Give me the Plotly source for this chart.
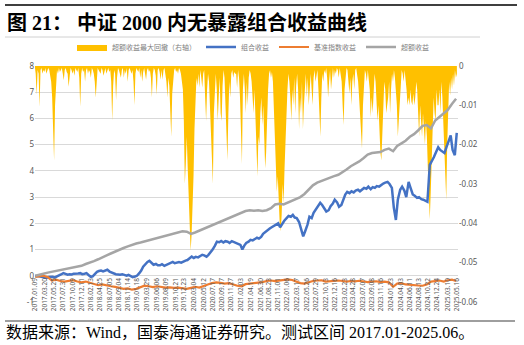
import pandas as pd
import plotly.graph_objects as go

# ---------------- data ----------------
month_dates = pd.date_range("2017-01-01", periods=101, freq="MS") + pd.Timedelta(days=9)
half_month_dates = pd.date_range("2017-01-01", "2025-05-15", freq="SMS")

excess = [0.00, 0.03, 0.08, 0.12, 0.15, 0.18, 0.22, 0.26, 0.29, 0.31, 0.35, 0.38,
          0.45, 0.50, 0.56, 0.63, 0.72, 0.78, 0.85, 0.93, 1.00, 1.06, 1.12, 1.18,
          1.23, 1.27, 1.31, 1.35, 1.38, 1.42, 1.46, 1.50, 1.55, 1.60, 1.66, 1.70,
          1.68, 1.60, 1.65, 1.72, 1.80, 1.86, 1.92, 1.98, 2.05, 2.12, 2.20, 2.28,
          2.35, 2.42, 2.47, 2.50, 2.48, 2.50, 2.47, 2.50, 2.58, 2.72, 2.75, 2.72,
          2.80, 2.88, 2.95, 3.00, 3.12, 3.28, 3.45, 3.55, 3.62, 3.68, 3.75, 3.80,
          3.85, 3.95, 4.05, 4.18, 4.26, 4.36, 4.48, 4.62, 4.68, 4.70, 4.72, 4.80,
          4.85, 4.75, 4.95, 5.05, 5.15, 5.30, 5.40, 5.55, 5.72, 5.75, 5.62, 5.92,
          6.05, 6.20, 6.32, 6.55, 6.75]

# portfolio return, sampled on the 1st and 15th of each month
portfolio = [
    # 2017
    0.00, 0.00, -0.02, -0.03, -0.05, -0.06, -0.08, -0.05, -0.03, -0.04, -0.06, -0.03,
    0.00, 0.05, 0.10, 0.06, 0.04, 0.06, 0.05, 0.08, 0.07, 0.09, 0.10, 0.06,
    # 2018
    0.08, 0.10, 0.02, -0.04, -0.02, 0.05, 0.15, 0.18, 0.20, 0.17, 0.22, 0.23,
    0.16, 0.12, 0.10, 0.06, 0.05, 0.04, 0.06, 0.02, 0.00, 0.03, -0.02, -0.05,
    # 2019
    -0.03, 0.00, 0.10, 0.20, 0.35, 0.45, 0.53, 0.57, 0.48, 0.42, 0.45, 0.40,
    0.40, 0.44, 0.38, 0.42, 0.46, 0.50, 0.53, 0.48, 0.50, 0.52, 0.50, 0.55,
    # 2020
    0.58, 0.60, 0.66, 0.73, 0.68, 0.72, 0.70, 0.76, 0.80, 0.78, 0.73, 0.80,
    0.90, 1.00, 1.15, 1.30, 1.28, 1.33, 1.27, 1.32, 1.30, 1.25, 1.32, 1.28,
    # 2021
    1.25, 1.22, 1.18, 1.00, 1.15, 1.25, 1.30, 1.37, 1.35, 1.40, 1.45, 1.42,
    1.48, 1.60, 1.68, 1.75, 1.80, 1.85, 1.90, 1.95, 2.00, 1.85, 2.00, 2.10,
    # 2022
    2.20, 2.28, 2.25, 2.32, 2.22, 2.20, 2.05, 1.80, 1.50, 1.70, 1.95, 2.25,
    2.20, 2.40, 2.55, 2.65, 2.78, 2.70, 2.55, 2.45, 2.50, 2.65, 2.75, 2.90,
    # 2023
    2.80, 2.63, 2.70, 2.95, 3.10, 3.20, 3.15, 3.22, 3.18, 3.25, 3.28, 3.22,
    3.30, 3.35, 3.32, 3.40, 3.30, 3.38, 3.35, 3.42, 3.40, 3.47, 3.52, 3.55,
    # 2024
    3.58, 3.50, 3.35, 2.60, 2.13, 2.90, 3.28, 3.40, 3.25, 3.00, 3.58, 3.35,
    3.10, 3.05, 2.97, 3.00, 2.92, 2.90, 2.85, 2.82, 4.23, 4.35, 4.53, 4.70,
    # 2025
    4.90, 4.80, 4.75, 4.68, 4.90, 5.10, 5.35, 4.80, 4.60, 5.45,
]

benchmark = [-0.04, -0.02, 0.00, -0.05, -0.18, -0.15, -0.20, -0.22, -0.18, -0.17, -0.22, -0.25,
             -0.22, -0.26, -0.30, -0.36, -0.33, -0.38, -0.40, -0.42, -0.46, -0.50, -0.48, -0.53,
             -0.50, -0.45, -0.38, -0.40, -0.43, -0.40, -0.42, -0.45, -0.44, -0.46, -0.45, -0.48,
             -0.50, -0.46, -0.42, -0.45, -0.38, -0.33, -0.28, -0.25, -0.27, -0.30, -0.28, -0.34,
             -0.38, -0.40, -0.32, -0.30, -0.28, -0.27, -0.24, -0.20, -0.18, -0.20, -0.17, -0.16,
             -0.14, -0.16, -0.22, -0.28, -0.30, -0.24, -0.20, -0.18, -0.17, -0.22, -0.20, -0.19,
             -0.18, -0.20, -0.22, -0.20, -0.21, -0.19, -0.22, -0.24, -0.22, -0.21, -0.24, -0.22,
             -0.25, -0.42, -0.30, -0.28, -0.33, -0.35, -0.36, -0.37, -0.38, -0.33, -0.22, -0.20,
             -0.18, -0.22, -0.17, -0.15, -0.20]

# weekly (Friday) max drawdown of excess return, one list per year
dd_2017 = [0, -0.002, -0.0074, -0.001, -0.002, -0.0104, -0.001, -0.0005, -0.002, -0.001,
           -0.0015, -0.0005, -0.002, -0.001, -0.0005, -0.001, -0.0025, -0.004, -0.008, -0.014,
           -0.024, -0.010, -0.003, -0.001, -0.002, -0.0005, -0.0015, -0.001, -0.0005, -0.002,
           -0.0036, -0.001, -0.0005, -0.0015, -0.002, -0.0053, -0.0015, -0.0005, -0.001, -0.002,
           -0.001, -0.0025, -0.0005, -0.001, -0.0015, -0.0005, -0.003, -0.0104, -0.002, -0.0005,
           -0.0015, -0.001]
dd_2018 = [-0.004, -0.001, -0.0005, -0.002, -0.001, -0.0015, -0.003, -0.0005, -0.001, -0.002,
           -0.004, -0.008, -0.002, -0.0005, -0.001, -0.0015, -0.002, -0.0005, -0.001, -0.0025,
           -0.001, -0.0005, -0.002, -0.001, -0.0005, -0.0015, -0.001, -0.004, -0.014, -0.005,
           -0.001, -0.002, -0.0087, -0.003, -0.0005, -0.001, -0.002, -0.003, -0.001, -0.0005,
           -0.003, -0.001, -0.002, -0.0005, -0.004, -0.001, -0.0005, -0.0015, -0.002, -0.001,
           -0.004, -0.010]
dd_2019 = [-0.002, -0.0005, -0.001, -0.0015, -0.0005, -0.003, -0.001, -0.004, -0.0015, -0.0005,
           -0.002, -0.0035, -0.001, -0.0005, -0.0015, -0.001, -0.003, -0.008, -0.002, -0.0005,
           -0.001, -0.0025, -0.0074, -0.001, -0.0005, -0.0015, -0.0035, -0.001, -0.0035, -0.001,
           -0.0005, -0.002, -0.004, -0.008, -0.003, -0.005, -0.012, -0.018, -0.007, -0.003,
           -0.001, -0.0005, -0.0015, -0.001, -0.002, -0.0005, -0.001, -0.002, -0.004, -0.006,
           -0.014, -0.030]
dd_2020 = [-0.025, -0.018, -0.026, -0.035, -0.040, -0.047, -0.043, -0.036, -0.028, -0.016,
           -0.008, -0.003, -0.005, -0.002, -0.0055, -0.001, -0.003, -0.0055, -0.002, -0.001,
           -0.008, -0.014, -0.006, -0.002, -0.004, -0.012, -0.020, -0.026, -0.030, -0.012,
           -0.004, -0.002, -0.006, -0.014, -0.008, -0.003, -0.012, -0.014, -0.005, -0.001,
           -0.003, -0.010, -0.018, -0.024, -0.012, -0.004, -0.008, -0.002, -0.001, -0.003,
           -0.0015, -0.002]
dd_2021 = [-0.002, -0.0055, -0.001, -0.003, -0.008, -0.016, -0.025, -0.006, -0.002, -0.006,
           -0.012, -0.004, -0.010, -0.003, -0.001, -0.002, -0.004, -0.008, -0.012, -0.006,
           -0.014, -0.022, -0.028, -0.018, -0.020, -0.012, -0.008, -0.015, -0.010, -0.018,
           -0.026, -0.022, -0.012, -0.006, -0.002, -0.001, -0.003, -0.0015, -0.004, -0.010,
           -0.018, -0.026, -0.032, -0.028, -0.036, -0.040, -0.042, -0.038, -0.030, -0.035,
           -0.026, -0.018, -0.010]
dd_2022 = [-0.006, -0.002, -0.004, -0.008, -0.014, -0.006, -0.010, -0.003, -0.012, -0.005,
           -0.002, -0.006, -0.016, -0.008, -0.012, -0.004, -0.016, -0.010, -0.004, -0.002,
           -0.008, -0.003, -0.010, -0.005, -0.002, -0.006, -0.010, -0.003, -0.001, -0.004,
           -0.002, -0.001, -0.006, -0.014, -0.018, -0.008, -0.002, -0.004, -0.001, -0.002,
           -0.0005, -0.003, -0.008, -0.004, -0.001, -0.006, -0.002, -0.0005, -0.003, -0.001,
           -0.002, -0.0005]
dd_2023 = [-0.001, -0.003, -0.0005, -0.002, -0.004, -0.010, -0.015, -0.006, -0.002, -0.0005,
           -0.001, -0.004, -0.007, -0.003, -0.010, -0.004, -0.002, -0.006, -0.001, -0.0005,
           -0.002, -0.004, -0.008, -0.012, -0.015, -0.021, -0.010, -0.004, -0.001, -0.002,
           -0.004, -0.001, -0.003, -0.006, -0.013, -0.008, -0.012, -0.005, -0.002, -0.004,
           -0.008, -0.014, -0.010, -0.018, -0.022, -0.024, -0.015, -0.008, -0.004, -0.006,
           -0.012, -0.010]
dd_2024 = [-0.008, -0.004, -0.012, -0.006, -0.002, -0.004, -0.001, -0.003, -0.006, -0.010,
           -0.018, -0.014, -0.008, -0.003, -0.001, -0.002, -0.004, -0.001, -0.003, -0.006,
           -0.010, -0.008, -0.010, -0.006, -0.009, -0.010, -0.007, -0.010, -0.008, -0.004,
           -0.006, -0.012, -0.018, -0.010, -0.014, -0.018, -0.012, -0.016, -0.020, -0.014,
           -0.018, -0.026, -0.034, -0.039, -0.032, -0.022, -0.018, -0.008, -0.012, -0.014,
           -0.006, -0.010]
dd_2025 = [-0.010, -0.006, -0.012, -0.004, -0.008, -0.014, -0.020, -0.028, -0.034, -0.020,
           -0.008, -0.004, -0.0075, -0.003, -0.006, -0.002, -0.005, -0.001, -0.003, -0.002]
drawdown_by_year = {2017: dd_2017, 2018: dd_2018, 2019: dd_2019, 2020: dd_2020, 2021: dd_2021,
                    2022: dd_2022, 2023: dd_2023, 2024: dd_2024, 2025: dd_2025}

tick_labels = ["2017.01.09", "2017.03.20", "2017.05.25", "2017.07.31", "2017.10.09", "2017.12.11",
               "2018.02.13", "2018.04.25", "2018.07.05", "2018.09.04", "2018.11.14",
               "2019.01.18", "2019.03.29", "2019.06.06", "2019.08.09", "2019.10.21", "2019.12.23",
               "2020.03.04", "2020.05.12", "2020.07.17", "2020.09.17", "2020.11.27",
               "2021.02.03", "2021.04.19", "2021.06.30", "2021.08.23", "2021.11.01",
               "2022.01.06", "2022.03.17", "2022.05.26", "2022.07.29", "2022.10.13", "2022.12.16",
               "2023.02.23", "2023.04.28", "2023.07.07", "2023.09.08", "2023.11.16",
               "2024.01.23", "2024.04.03", "2024.06.11", "2024.08.13", "2024.10.22", "2024.12.24",
               "2025.03.10", "2025.05.16"]

left_ticks = [-1, 0, 1, 2, 3, 4, 5, 6, 7, 8]
right_ticks = [0, -0.01, -0.02, -0.03, -0.04, -0.05, -0.06]
right_tick_text = ["0", "-0.01", "-0.02", "-0.03", "-0.04", "-0.05", "-0.06"]

names = ["超额收益最大回撤（右轴）", "组合收益", "基准指数收益", "超额收益"]
colors = ["#FFC000", "#4472C4", "#ED7D31", "#A5A5A5"]

title_text = "图 21： 中证 2000 内无暴露组合收益曲线"
source_text = "数据来源：Wind，国泰海通证券研究。测试区间 2017.01-2025.06。"

# ---------------- build weekly drawdown series ----------------
dd_x, dd_y = [], []
for yr, vals in drawdown_by_year.items():
    fridays = pd.date_range(f"{yr}-01-01", f"{yr}-12-31", freq="W-FRI")
    k = min(len(fridays), len(vals))
    dd_x.extend(fridays[:k])
    dd_y.extend(vals[:k])

n_pf = min(len(half_month_dates), len(portfolio))

# ---------------- figure ----------------
W, H = 524, 345
L, R, T, B = 35, 66, 66, 43
pw, ph = W - L - R, H - T - B


def px(x):
    return (x - L) / pw


def py(y):
    return (H - B - y) / ph


fig = go.Figure()
fig.add_trace(go.Scatter(x=dd_x, y=dd_y, name=names[0], yaxis="y",
                         mode="lines", line=dict(width=0, color=colors[0]),
                         fill="tozeroy", fillcolor=colors[0]))
fig.add_trace(go.Scatter(x=half_month_dates[:n_pf], y=portfolio[:n_pf], name=names[1], yaxis="y2",
                         mode="lines", line=dict(width=2.5, color=colors[1])))
fig.add_trace(go.Scatter(x=month_dates, y=benchmark, name=names[2], yaxis="y2",
                         mode="lines", line=dict(width=2.2, color=colors[2])))
fig.add_trace(go.Scatter(x=month_dates, y=excess, name=names[3], yaxis="y2",
                         mode="lines", line=dict(width=2.5, color=colors[3])))

tick_font = dict(family="Noto Sans, Noto Sans CJK SC", size=8, color="#595959")
fig.update_layout(
    width=W, height=H,
    margin=dict(l=L, r=R, t=T, b=B),
    paper_bgcolor="white", plot_bgcolor="white",
    showlegend=True,
    legend=dict(orientation="h", x=px(253), xanchor="center", y=py(47), yanchor="middle",
                font=dict(family="Noto Sans CJK SC", size=7, color="#808080"),
                itemwidth=30, tracegroupgap=0, bgcolor="rgba(0,0,0,0)"),
    xaxis=dict(type="date", range=["2017-01-08", "2025-05-24"],
               tickvals=pd.to_datetime(tick_labels, format="%Y.%m.%d"), ticktext=tick_labels,
               tickangle=-90, tickfont=dict(family="Noto Sans", size=6.5, color="#595959"),
               showgrid=False, zeroline=False, showline=False, ticks="",
               anchor="free", position=1 / 9, automargin=False),
    yaxis=dict(range=[-0.06, 0], side="right", tickvals=right_ticks, ticktext=right_tick_text,
               showgrid=False, zeroline=False, showline=False, ticks="",
               tickfont=tick_font, automargin=False),
    yaxis2=dict(range=[-1, 8], side="left", overlaying="y", anchor="x",
                tickvals=left_ticks, ticktext=[str(v) for v in left_ticks],
                showgrid=True, gridcolor="#D9D9D9", gridwidth=1,
                zeroline=False, showline=False, ticks="",
                tickfont=tick_font, automargin=False),
)

fig.add_annotation(text=title_text, xref="paper", yref="paper", x=px(5), y=py(23),
                   xanchor="left", yanchor="middle", showarrow=False,
                   font=dict(family="Liberation Serif, Noto Sans CJK SC", size=20, color="#000000",
                             weight="bold"))
fig.add_annotation(text=source_text, xref="paper", yref="paper", x=px(4), y=py(332),
                   xanchor="left", yanchor="middle", showarrow=False,
                   font=dict(family="Liberation Serif, Noto Sans CJK SC", size=16, color="#000000"))

fig.add_shape(type="line", xref="paper", yref="paper", x0=px(5), x1=px(517), y0=py(5), y1=py(5),
              line=dict(color="#3F3F3F", width=2))
fig.add_shape(type="line", xref="paper", yref="paper", x0=px(5), x1=px(480), y0=py(37), y1=py(37),
              line=dict(color="#D0D0D0", width=1))
fig.add_shape(type="line", xref="paper", yref="paper", x0=px(5), x1=px(515), y0=py(321), y1=py(321),
              line=dict(color="#3F3F3F", width=1.2))

fig.write_html("out.html")
